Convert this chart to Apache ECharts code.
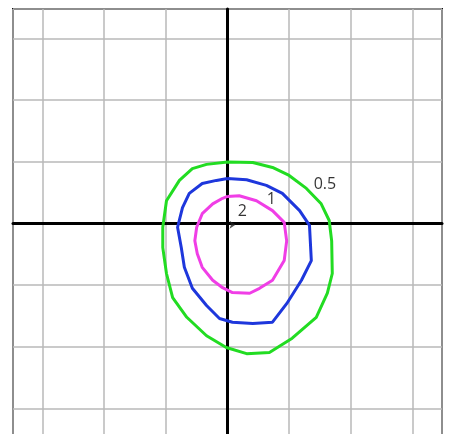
<!DOCTYPE html>
<html>
<head>
<meta charset="utf-8">
<script src="https://cdn.jsdelivr.net/npm/echarts@6/dist/echarts.min.js"></script>
<style>
  html, body { margin: 0; padding: 0; background: #fff; }
  #main { width: 452px; height: 434px; }
</style>
</head>
<body>
<div id="main"></div>
<script>
// contour rings, in grid units (one grid cell = 1)
const ring05 = [
  [0, 1.00], [0.41, 0.99], [0.73, 0.91], [1.00, 0.78], [1.28, 0.57], [1.52, 0.32],
  [1.65, 0.05], [1.69, -0.28], [1.70, -0.81], [1.62, -1.13], [1.44, -1.52], [1.05, -1.86],
  [0.68, -2.09], [0.31, -2.11], [-0.02, -2.01], [-0.34, -1.82], [-0.66, -1.52], [-0.89, -1.20],
  [-0.99, -0.81], [-1.05, -0.39], [-1.05, -0.06], [-0.99, 0.37], [-0.78, 0.70], [-0.57, 0.89],
  [-0.34, 0.96], [0, 1.00]
];
const ring1 = [
  [0, 0.73], [0.31, 0.71], [0.63, 0.62], [0.89, 0.49], [1.17, 0.21], [1.33, -0.03],
  [1.36, -0.60], [1.20, -0.92], [0.96, -1.30], [0.73, -1.60], [0.41, -1.62], [0.08, -1.60],
  [-0.13, -1.54], [-0.34, -1.33], [-0.57, -1.05], [-0.70, -0.71], [-0.75, -0.39], [-0.81, -0.06],
  [-0.73, 0.26], [-0.62, 0.49], [-0.41, 0.65], [-0.18, 0.70], [0, 0.73]
];
const ring2 = [
  [0, 0.44], [0.19, 0.45], [0.47, 0.37], [0.73, 0.21], [0.92, 0.02], [0.96, -0.28],
  [0.92, -0.60], [0.73, -0.92], [0.52, -1.05], [0.36, -1.13], [0.08, -1.12], [-0.08, -1.04],
  [-0.24, -0.92], [-0.41, -0.71], [-0.49, -0.49], [-0.53, -0.28], [-0.50, -0.06], [-0.41, 0.16],
  [-0.24, 0.32], [-0.08, 0.41], [0, 0.44]
];
const levelLabels = [
  { name: '0.5', value: [1.58, 0.64] },
  { name: '1', value: [0.71, 0.39] },
  { name: '2', value: [0.24, 0.20] }
];
const arrowTip = [[0.13, -0.02]];

const chart = echarts.init(document.getElementById('main'));

const axisLook = {
  type: 'value',
  splitNumber: 7,
  minInterval: 1,
  maxInterval: 1,
  axisLine: { show: true, onZero: true, lineStyle: { color: '#000', width: 3 } },
  axisTick: { show: false },
  axisLabel: { show: false },
  splitLine: { show: true, lineStyle: { color: '#b8b8b8', width: 1.5 } }
};

function ring(data, color) {
  return {
    type: 'line',
    data: data,
    showSymbol: false,
    smooth: false,
    lineStyle: { color: color, width: 3 },
    z: 3,
    silent: true
  };
}

chart.setOption({
  backgroundColor: '#fff',
  animation: false,
  // frame runs off the bottom of the picture, as in the original
  grid: {
    left: 13, top: 9, width: 429, height: 447,
    outerBoundsMode: 'none',
    show: true, borderColor: '#111', borderWidth: 2
  },
  xAxis: Object.assign({ min: -3.48, max: 3.48 }, axisLook),
  yAxis: Object.assign({ min: -3.77, max: 3.48 }, axisLook),
  series: [
    ring(ring05, '#22dc22'),
    ring(ring1, '#1e37dc'),
    ring(ring2, '#f03ee6'),
    {
      type: 'scatter',
      data: levelLabels,
      symbolSize: 0,
      label: {
        show: true,
        position: 'inside',
        formatter: '{b}',
        color: '#000',
        fontSize: 16,
        fontFamily: 'Open Sans'
      },
      z: 5
    },
    {
      type: 'scatter',
      data: arrowTip,
      symbol: 'arrow',
      symbolRotate: -90,
      symbolSize: 6,
      itemStyle: { color: '#222' },
      z: 5
    }
  ]
});
</script>
</body>
</html>
